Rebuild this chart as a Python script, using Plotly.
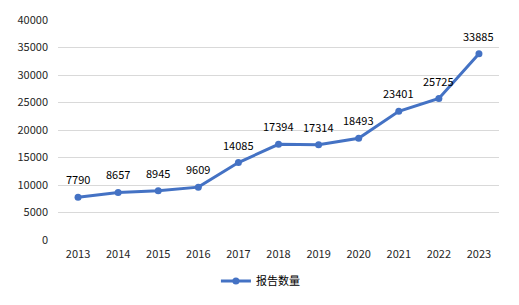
import plotly.graph_objects as go

years = ["2013", "2014", "2015", "2016", "2017", "2018", "2019", "2020", "2021", "2022", "2023"]
counts = [7790, 8657, 8945, 9609, 14085, 17394, 17314, 18493, 23401, 25725, 33885]
series_name = "报告数量"

fig = go.Figure()
fig.add_trace(go.Scatter(
    x=years, y=counts, name=series_name,
    mode="lines+markers",
    line=dict(color="#4472C4", width=3),
    marker=dict(color="#4472C4", size=7),
))

for i, (x, y) in enumerate(zip(years, counts)):
    fig.add_annotation(x=i, y=y, text=str(y), showarrow=False, yshift=18,
                       font=dict(size=11, color="#000000"))

fig.update_layout(
    width=519, height=305,
    margin=dict(l=58, r=20, t=20, b=65, autoexpand=False),
    paper_bgcolor="white", plot_bgcolor="white",
    font=dict(family="Noto Sans CJK SC, Noto Sans, sans-serif", size=11, color="#262626"),
    showlegend=True,
    legend=dict(orientation="h", x=0.459, xanchor="center", y=-0.186, yanchor="middle",
                font=dict(size=11, color="#000000")),
    xaxis=dict(type="category", range=[-0.5, 10.5], showgrid=False, showline=False,
               zeroline=False, ticks="", ticklabelstandoff=6, automargin=False,
               tickfont=dict(size=11, color="#262626")),
    yaxis=dict(range=[0, 40000], dtick=5000, showgrid=True, gridcolor="#D9D9D9",
               gridwidth=1, zeroline=False, showline=False, ticks="", automargin=False,
               ticklabelstandoff=9, tickformat="d",
               tickfont=dict(size=11, color="#262626")),
)

fig.write_html("out.html")
